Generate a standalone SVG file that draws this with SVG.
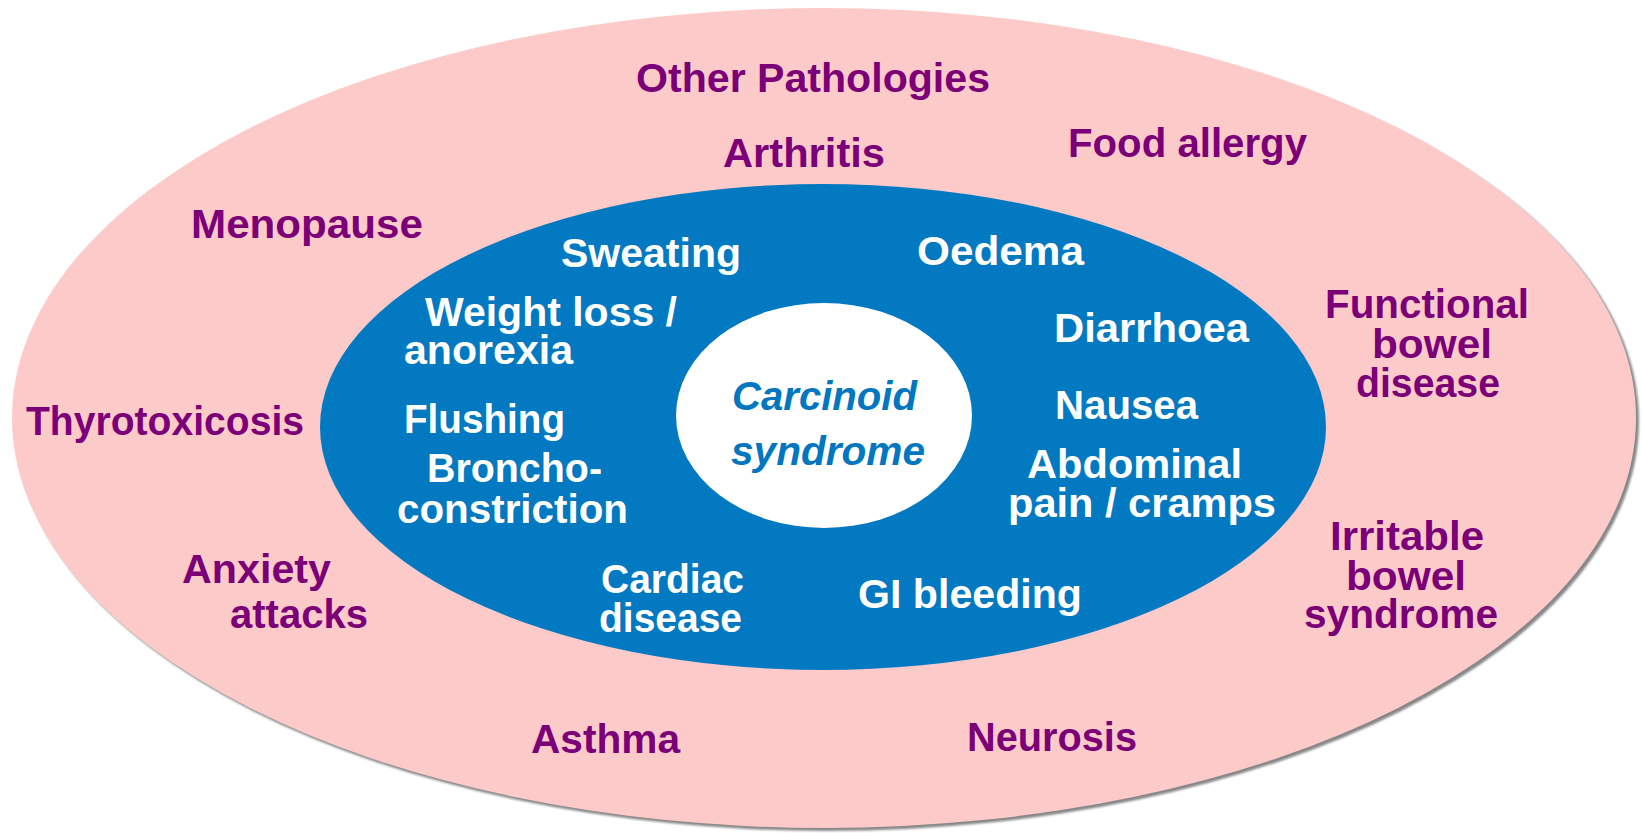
<svg xmlns="http://www.w3.org/2000/svg" width="1642" height="833" viewBox="0 0 1642 833">
<style>
.o{font-family:"Liberation Sans",Arial,sans-serif;font-weight:bold;font-size:41px;fill:#7B0078}
.w{font-family:"Liberation Sans",Arial,sans-serif;font-weight:bold;font-size:41px;fill:#FFFFFF}
.c{font-family:"Liberation Sans",Arial,sans-serif;font-weight:bold;font-style:italic;font-size:41px;fill:#0277C0}
</style>
<defs>
<filter id="sh" x="-5%" y="-5%" width="110%" height="110%"><feGaussianBlur stdDeviation="1.2"/></filter>
</defs>
<rect width="1642" height="833" fill="#FFFFFF"/>
<g id="outer">
<ellipse cx="827" cy="421" rx="812" ry="410" fill="#878787" filter="url(#sh)"/>
<ellipse cx="824" cy="418" rx="812" ry="410" fill="#FDCACA"/>
</g>
<g id="middle">
<ellipse cx="823" cy="427" rx="503" ry="243" fill="#0279C1"/>
</g>
<g id="center">
<ellipse cx="824" cy="415.5" rx="148" ry="112.5" fill="#FFFFFF"/>
<text class="c" x="732" y="410" textLength="185" lengthAdjust="spacingAndGlyphs">Carcinoid</text>
<text class="c" x="731" y="465" textLength="194" lengthAdjust="spacingAndGlyphs">syndrome</text>
</g>
<g id="connectors"/>
<g id="other-pathologies"><text class="o" x="636" y="92" textLength="354" lengthAdjust="spacingAndGlyphs">Other Pathologies</text></g>
<g id="arthritis"><text class="o" x="723" y="167" textLength="162" lengthAdjust="spacingAndGlyphs">Arthritis</text></g>
<g id="food-allergy"><text class="o" x="1068" y="157" textLength="239" lengthAdjust="spacingAndGlyphs">Food allergy</text></g>
<g id="menopause"><text class="o" x="191" y="238" textLength="232" lengthAdjust="spacingAndGlyphs">Menopause</text></g>
<g id="thyrotoxicosis"><text class="o" x="26" y="435" textLength="278" lengthAdjust="spacingAndGlyphs">Thyrotoxicosis</text></g>
<g id="anxiety-attacks">
<text class="o" x="182" y="583" textLength="149" lengthAdjust="spacingAndGlyphs">Anxiety</text>
<text class="o" x="230" y="628" textLength="138" lengthAdjust="spacingAndGlyphs">attacks</text>
</g>
<g id="asthma"><text class="o" x="531" y="753" textLength="149" lengthAdjust="spacingAndGlyphs">Asthma</text></g>
<g id="neurosis"><text class="o" x="967" y="751" textLength="170" lengthAdjust="spacingAndGlyphs">Neurosis</text></g>
<g id="functional-bowel-disease">
<text class="o" x="1325" y="318" textLength="204" lengthAdjust="spacingAndGlyphs">Functional</text>
<text class="o" x="1372" y="358" textLength="120" lengthAdjust="spacingAndGlyphs">bowel</text>
<text class="o" x="1356" y="397" textLength="144" lengthAdjust="spacingAndGlyphs">disease</text>
</g>
<g id="irritable-bowel-syndrome">
<text class="o" x="1330" y="550" textLength="154" lengthAdjust="spacingAndGlyphs">Irritable</text>
<text class="o" x="1346" y="590" textLength="120" lengthAdjust="spacingAndGlyphs">bowel</text>
<text class="o" x="1304" y="628" textLength="194" lengthAdjust="spacingAndGlyphs">syndrome</text>
</g>
<g id="sweating"><text class="w" x="561" y="267" textLength="180" lengthAdjust="spacingAndGlyphs">Sweating</text></g>
<g id="oedema"><text class="w" x="917" y="265" textLength="167" lengthAdjust="spacingAndGlyphs">Oedema</text></g>
<g id="weight-loss">
<text class="w" x="425" y="326" textLength="252" lengthAdjust="spacingAndGlyphs">Weight loss /</text>
<text class="w" x="404" y="364" textLength="169" lengthAdjust="spacingAndGlyphs">anorexia</text>
</g>
<g id="diarrhoea"><text class="w" x="1054" y="342" textLength="195" lengthAdjust="spacingAndGlyphs">Diarrhoea</text></g>
<g id="flushing"><text class="w" x="404" y="433" textLength="161" lengthAdjust="spacingAndGlyphs">Flushing</text></g>
<g id="nausea"><text class="w" x="1055" y="419" textLength="143" lengthAdjust="spacingAndGlyphs">Nausea</text></g>
<g id="bronchoconstriction">
<text class="w" x="427" y="482" textLength="175" lengthAdjust="spacingAndGlyphs">Broncho-</text>
<text class="w" x="397" y="523" textLength="231" lengthAdjust="spacingAndGlyphs">constriction</text>
</g>
<g id="abdominal-pain">
<text class="w" x="1027" y="478" textLength="215" lengthAdjust="spacingAndGlyphs">Abdominal</text>
<text class="w" x="1008" y="517" textLength="268" lengthAdjust="spacingAndGlyphs">pain / cramps</text>
</g>
<g id="cardiac-disease">
<text class="w" x="601" y="593" textLength="143" lengthAdjust="spacingAndGlyphs">Cardiac</text>
<text class="w" x="599" y="632" textLength="143" lengthAdjust="spacingAndGlyphs">disease</text>
</g>
<g id="gi-bleeding"><text class="w" x="858" y="608" textLength="224" lengthAdjust="spacingAndGlyphs">GI bleeding</text></g>
</svg>
